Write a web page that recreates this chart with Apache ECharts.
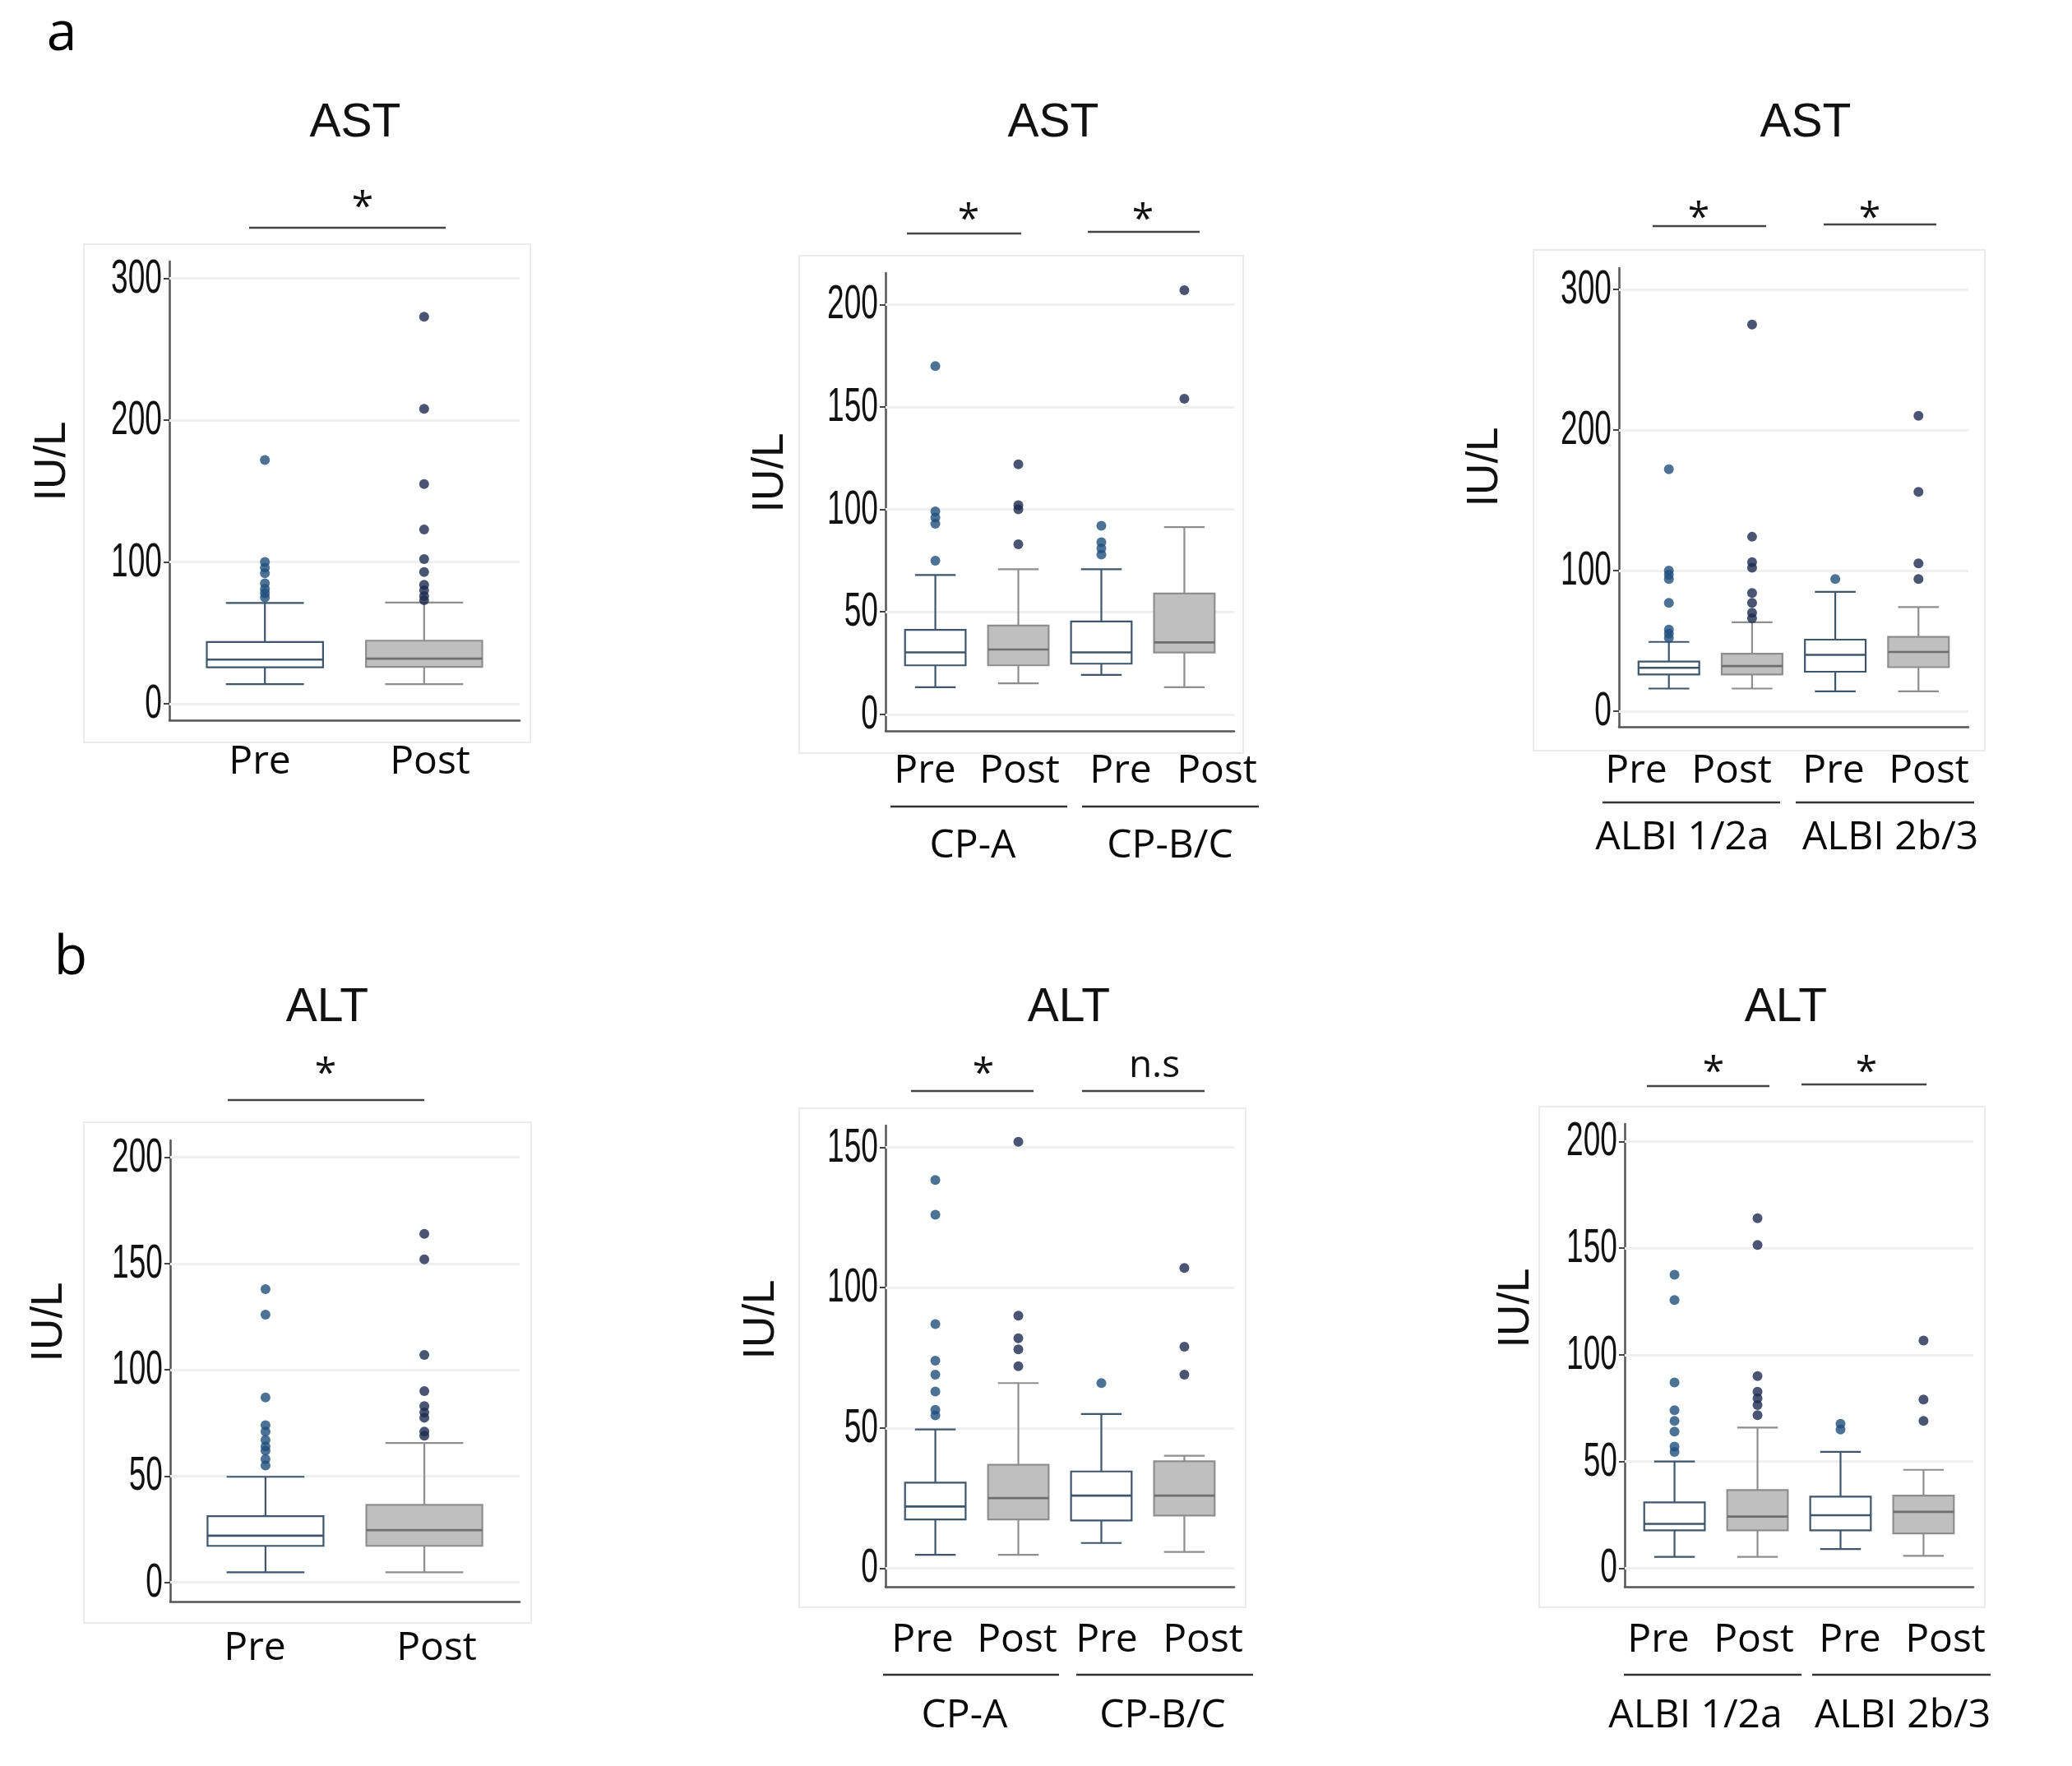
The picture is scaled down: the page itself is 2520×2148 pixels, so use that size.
<!DOCTYPE html>
<html><head><meta charset="utf-8">
<script src="https://cdn.jsdelivr.net/npm/echarts@6/dist/echarts.min.js"></script>
<style>html,body{margin:0;padding:0;background:#fff}#c{width:2520px;height:2148px}</style>
</head><body><div id="c"></div>
<script>
// ---------------- data ----------------
const groupLabels2 = ['Pre', 'Post'];
const groupLabels4 = ['Pre', 'Post', 'Pre', 'Post'];
const kinds2 = [0, 1];          // 0 = Pre, 1 = Post
const kinds4 = [0, 1, 0, 1];
const cpLabels = ['CP-A', 'CP-B/C'];
const albiLabels = ['ALBI 1/2a', 'ALBI 2b/3'];
const astTicks300 = [0, 100, 200, 300];
const astTicks200 = [0, 50, 100, 150, 200];
const altTicks200 = [0, 50, 100, 150, 200];
const altTicks150 = [0, 50, 100, 150];

// box stats: [lower whisker, Q1, median, Q3, upper whisker]
const astAllBox  = [[13.8, 25.7, 31.2, 43.6, 71.1], [13.8, 26, 31.8, 44.5, 71.4]];
const astAllOut  = [[75, 78, 81, 85, 92, 96, 100, 172], [73, 76, 80, 84, 93, 102, 123, 155, 208, 273]];
const astCpBox   = [[13.2, 23.9, 30.2, 41.2, 68], [15.1, 23.9, 31.6, 43.3, 70.8], [19.2, 24.7, 30.2, 45.3, 70.8], [13.2, 30.2, 35.1, 59, 91.4]];
const astCpOut   = [[75, 93, 96, 99, 170], [83, 100, 102, 122], [78, 81, 84, 92], [154, 207]];
const astAlbiBox = [[16, 26, 30.8, 35.2, 49.2], [16, 26, 32, 40.8, 63.2], [14, 28, 40, 50.8, 84.8], [14, 31.2, 42, 52.8, 74]];
const astAlbiOut = [[52, 55, 58, 77, 94, 97, 100, 172], [66, 70, 77, 84, 102, 106, 124, 275], [94], [94, 105, 156, 210]];
const altAllBox  = [[4.8, 17.2, 22, 31.2, 49.7], [4.8, 17.2, 24.6, 36.5, 65.6]];
const altAllOut  = [[55, 58, 62, 64, 67, 71, 74, 87, 126, 138], [69, 71, 77.5, 80, 83, 90, 107, 152, 164]];
const altCpBox   = [[4.8, 17.4, 22, 30.5, 49.5], [4.8, 17.4, 25, 36.9, 66], [9, 17, 25.9, 34.5, 55], [5.8, 18.8, 25.9, 38.1, 40.1]];
const altCpOut   = [[54.5, 56.5, 63, 69, 74, 87, 126, 138.4], [72, 78, 82, 90, 152], [66], [69, 79, 107]];
const altAlbiBox = [[5.3, 17.7, 20.8, 30.8, 50], [5.3, 17.7, 24.2, 36.6, 65.9], [9, 17.7, 24.8, 33.5, 54.5], [5.8, 16.3, 26.4, 34, 46.1]];
const altAlbiOut = [[54.5, 57, 64, 69, 74, 87, 125.7, 137.5], [71.7, 76.4, 79.6, 82.7, 90, 151.5, 164], [65, 67.7], [69, 79, 106.7]];

const sigA1 = ['*'];
const sigA2 = ['*', '*'];
const sigA3 = ['*', '*'];
const sigB1 = ['*'];
const sigB2 = ['*', 'n.s'];
const sigB3 = ['*', '*'];

// ---------------- layout (pixels) ----------------
const panels = [
  { title: 'AST', box: astAllBox, out: astAllOut, kinds: kinds2, cats: groupLabels2, ticks: astTicks300, sig: sigA1,
    grid: [206, 318, 632, 876], yMin: -11.6, yMax: 312, titlePos: [432, 150], yName: [64, 561], frame: [102, 297, 645, 903],
    sigPos: [[441, 243, 303, 542, 277]], catX: [316, 523], catY: 927, groups: null },
  { title: 'AST', box: astCpBox, out: astCpOut, kinds: kinds4, cats: groupLabels4, ticks: astTicks200, sig: sigA2,
    grid: [1077, 332, 1501, 889], yMin: -8.1, yMax: 215.4, titlePos: [1281, 150], yName: [937, 575], frame: [972, 311, 1512, 916],
    sigPos: [[1178, 258, 1103, 1242, 284], [1390, 258, 1323, 1459, 282]], catX: [1125, 1240, 1363, 1480], catY: 938,
    groups: cpLabels, groupLines: [[1083, 1298], [1316, 1531]], groupLineY: 981, groupX: [1183, 1423], groupY: 1029 },
  { title: 'AST', box: astAlbiBox, out: astAlbiOut, kinds: kinds4, cats: groupLabels4, ticks: astTicks300, sig: sigA3,
    grid: [1969, 326, 2394, 884], yMin: -11.2, yMax: 315.2, titlePos: [2196, 150], yName: [1806, 568], frame: [1865, 304, 2414, 913],
    sigPos: [[2066, 256, 2010, 2148, 275], [2274, 256, 2218, 2355, 273]], catX: [1990, 2106, 2230, 2346], catY: 938,
    groups: albiLabels, groupLines: [[1949, 2165], [2184, 2401]], groupLineY: 976, groupX: [2046, 2299], groupY: 1019 },
  { title: 'ALT', box: altAllBox, out: altAllOut, kinds: kinds2, cats: groupLabels2, ticks: altTicks200, sig: sigB1,
    grid: [207, 1387, 632, 1948], yMin: -9, yMax: 208, titlePos: [398, 1226], yName: [60, 1608], frame: [102, 1365, 646, 1974],
    sigPos: [[396, 1297, 277, 516, 1338]], catX: [310, 531], catY: 2005, groups: null },
  { title: 'ALT', box: altCpBox, out: altCpOut, kinds: kinds4, cats: groupLabels4, ticks: altTicks150, sig: sigB2,
    grid: [1077, 1369, 1501, 1930], yMin: -6.6, yMax: 157.8, titlePos: [1300, 1226], yName: [926, 1605], frame: [972, 1348, 1515, 1955],
    sigPos: [[1196, 1297, 1108, 1257, 1327], [1404, 1303, 1316, 1465, 1327]], catX: [1122, 1237, 1346, 1463], catY: 1995,
    groups: cpLabels, groupLines: [[1074, 1288], [1309, 1524]], groupLineY: 2037, groupX: [1173, 1414], groupY: 2087 },
  { title: 'ALT', box: altAlbiBox, out: altAlbiOut, kinds: kinds4, cats: groupLabels4, ticks: altTicks200, sig: sigB3,
    grid: [1976, 1367, 2400, 1930], yMin: -8.7, yMax: 208.2, titlePos: [2172, 1226], yName: [1844, 1591], frame: [1872, 1346, 2414, 1955],
    sigPos: [[2084, 1295, 2003, 2152, 1321], [2270, 1295, 2191, 2343, 1319]], catX: [2017, 2133, 2250, 2366], catY: 1995,
    groups: albiLabels, groupLines: [[1975, 2191], [2204, 2421]], groupLineY: 2037, groupX: [2062, 2314], groupY: 2087 }
];

const C_PRE = '#3d566e', C_POST_STROKE = '#8e8e8e', C_POST_FILL = '#bfbfbf', C_POST_MED = '#6e6e6e';
const C_PRE_DOT = '#1f4f7c', C_POST_DOT = '#1b2a4f';
const LABEL_FONT = "'Open Sans', 'Noto Sans', sans-serif";
const TITLE_FONT = "'Liberation Sans', Arial, sans-serif";

function renderBox(params, api) {
  const x = api.value(0), lo = api.value(1), q1 = api.value(2), md = api.value(3), q3 = api.value(4), hi = api.value(5), kind = api.value(6);
  const bw = 0.365, cw = 0.245;
  const tl = api.coord([x - bw, q3]), br = api.coord([x + bw, q1]);
  const mL = api.coord([x - bw, md]), mR = api.coord([x + bw, md]);
  const cHi = api.coord([x, hi]), cLo = api.coord([x, lo]);
  const capL = api.coord([x - cw, hi])[0], capR = api.coord([x + cw, hi])[0];
  const stroke = kind ? C_POST_STROKE : C_PRE;
  const fill = kind ? C_POST_FILL : '#ffffff';
  const med = kind ? C_POST_MED : C_PRE;
  const ls = { stroke: stroke, lineWidth: 2.2 };
  return { type: 'group', children: [
    { type: 'line', shape: { x1: cHi[0], y1: cHi[1], x2: cHi[0], y2: tl[1] }, style: ls },
    { type: 'line', shape: { x1: cLo[0], y1: br[1], x2: cLo[0], y2: cLo[1] }, style: ls },
    { type: 'line', shape: { x1: capL, y1: cHi[1], x2: capR, y2: cHi[1] }, style: ls },
    { type: 'line', shape: { x1: capL, y1: cLo[1], x2: capR, y2: cLo[1] }, style: ls },
    { type: 'rect', shape: { x: tl[0], y: tl[1], width: br[0] - tl[0], height: br[1] - tl[1] }, style: { fill: fill, stroke: stroke, lineWidth: 2.2 } },
    { type: 'line', shape: { x1: mL[0], y1: mL[1], x2: mR[0], y2: mR[1] }, style: { stroke: med, lineWidth: 2.6 } }
  ] };
}

const grids = [], xAxes = [], yAxes = [], series = [], graphics = [];

graphics.push({ type: 'text', x: 75, y: 42, style: { text: 'a', fontSize: 66, fontFamily: LABEL_FONT, fill: '#000', align: 'center', verticalAlign: 'middle' } });
graphics.push({ type: 'text', x: 86, y: 1166, style: { text: 'b', fontSize: 66, fontFamily: LABEL_FONT, fill: '#000', align: 'center', verticalAlign: 'middle' } });

panels.forEach(function (p, i) {
  const g = p.grid;
  grids.push({ left: g[0], top: g[1], width: g[2] - g[0], height: g[3] - g[1], containLabel: false });
  const n = p.box.length;
  xAxes.push({ type: 'value', gridIndex: i, min: 0.4, max: n + 0.6,
    axisLine: { show: true, onZero: false, lineStyle: { color: '#555', width: 2.5 } },
    axisTick: { show: false }, axisLabel: { show: false }, splitLine: { show: false } });
  yAxes.push({ type: 'value', gridIndex: i, min: p.yMin, max: p.yMax,
    axisLine: { show: true, onZero: false, lineStyle: { color: '#555', width: 2.5 } },
    axisTick: { show: true, length: 7, customValues: p.ticks, lineStyle: { color: '#444', width: 2 } },
    axisLabel: { show: false },
    splitLine: { show: false } });

  const boxData = p.box.map(function (b, k) { return [k + 1, b[0], b[1], b[2], b[3], b[4], p.kinds[k]]; });
  series.push({ type: 'custom', xAxisIndex: i, yAxisIndex: i, z: 10, silent: true,
    encode: { x: 0, y: [1, 2, 3, 4, 5] }, data: boxData, renderItem: renderBox,
    markLine: { z: 1, silent: true, symbol: 'none', animation: false, label: { show: false },
      lineStyle: { color: '#f0f0f0', width: 3, type: 'solid' },
      data: p.ticks.map(function (t) { return { yAxis: t }; }) } });

  const dots = [];
  p.out.forEach(function (arr, k) {
    arr.forEach(function (v) {
      dots.push({ value: [k + 1, v], itemStyle: { color: p.kinds[k] ? C_POST_DOT : C_PRE_DOT } });
    });
  });
  series.push({ type: 'scatter', xAxisIndex: i, yAxisIndex: i, z: 11, silent: true, symbolSize: 12, data: dots });

  const f = p.frame;
  graphics.push({ type: 'rect', z: -10, shape: { x: f[0], y: f[1], width: f[2] - f[0], height: f[3] - f[1] },
    style: { fill: 'none', stroke: '#ebebeb', lineWidth: 2 } });
  graphics.push({ type: 'text', x: p.titlePos[0], y: p.titlePos[1], style: { text: p.title, fontSize: 57, fontFamily: TITLE_FONT, fill: '#111', align: 'center', verticalAlign: 'middle' } });
  graphics.push({ type: 'text', x: p.yName[0], y: p.yName[1], rotation: Math.PI / 2, style: { text: 'IU/L', fontSize: 53, fontFamily: TITLE_FONT, fill: '#111', align: 'center', verticalAlign: 'middle' } });
  p.sigPos.forEach(function (s, k) {
    const txt = p.sig[k];
    const dy = txt === '*' ? 10 : -6;
    graphics.push({ type: 'text', x: s[0], y: s[1] + dy, style: { text: txt, fontSize: txt === '*' ? 48 : 46, fontFamily: LABEL_FONT, fill: '#111', align: 'center', verticalAlign: 'middle' } });
    graphics.push({ type: 'line', shape: { x1: s[2], y1: s[4], x2: s[3], y2: s[4] }, style: { stroke: '#444', lineWidth: 2.5 } });
  });
  p.cats.forEach(function (c, k) {
    graphics.push({ type: 'text', x: p.catX[k], y: p.catY, style: { text: c, fontSize: 48, fontFamily: LABEL_FONT, fill: '#0a0a0a', align: 'center', verticalAlign: 'middle' } });
  });
  if (p.groups) {
    p.groups.forEach(function (gl, k) {
      graphics.push({ type: 'line', shape: { x1: p.groupLines[k][0], y1: p.groupLineY, x2: p.groupLines[k][1], y2: p.groupLineY }, style: { stroke: '#333', lineWidth: 2.5 } });
      graphics.push({ type: 'text', x: p.groupX[k], y: p.groupY, style: { text: gl, fontSize: 48, fontFamily: LABEL_FONT, fill: '#0a0a0a', align: 'center', verticalAlign: 'middle' } });
    });
  }
});

const chart = echarts.init(document.getElementById('c'), null, { renderer: 'canvas', width: 2520, height: 2148 });
chart.setOption({
  backgroundColor: '#ffffff',
  animation: false,
  grid: grids, xAxis: xAxes, yAxis: yAxes, series: series, graphic: graphics
});

// y tick labels (condensed), positioned through the axes' own scales
panels.forEach(function (p, i) {
  const axisX = chart.convertToPixel({ xAxisIndex: i }, 0.4);
  p.ticks.forEach(function (t) {
    const py = chart.convertToPixel({ yAxisIndex: i }, t);
    graphics.push({ type: 'text', x: axisX - 9, y: py + 1, scaleX: 0.64,
      style: { text: String(t), fontSize: 58, fontFamily: TITLE_FONT, fill: '#111', align: 'right', verticalAlign: 'middle' } });
  });
});
chart.setOption({ graphic: graphics });
</script>
</body></html>
